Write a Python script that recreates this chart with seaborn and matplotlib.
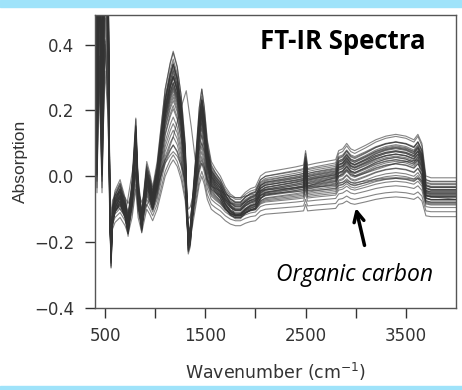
import pandas as pd
import matplotlib
matplotlib.use('Agg')
import matplotlib.pyplot as plt
import seaborn as sns
from matplotlib.patches import Rectangle

# Mean spectrum shape (wavenumber, absorption)
wavenumber = [400, 420, 440, 470, 500, 530, 548, 560, 575, 600, 650, 700, 730, 770, 807, 830,
              866, 916, 945, 975, 1020, 1060, 1100, 1150, 1180, 1220, 1260, 1300, 1330, 1350,
              1400, 1440, 1465, 1490, 1520, 1560, 1600, 1650, 1700, 1750, 1800, 1850, 1900,
              1950, 2000, 2050, 2100, 2200, 2300, 2400, 2480, 2500, 2520, 2600, 2700, 2800,
              2830, 2870, 2910, 2950, 2990, 3100, 3200, 3300, 3400, 3500, 3580, 3620, 3660,
              3700, 3750, 3850, 4000]
base = [0.8, 0.1, 0.9, 0.1, 1.0, 0.6, -0.1, -0.24, -0.12, -0.08, -0.05, -0.1, -0.15, -0.05,
        0.12, -0.05, -0.14, 0.0, -0.03, -0.07, 0.0, 0.1, 0.2, 0.27, 0.3, 0.26, 0.18, 0.05,
        -0.2, -0.18, 0.0, 0.15, 0.2, 0.15, 0.06, 0.0, -0.02, -0.04, -0.07, -0.09, -0.1, -0.1,
        -0.085, -0.075, -0.07, -0.04, -0.03, -0.025, -0.02, -0.015, -0.01, 0.03, -0.01,
        -0.005, 0.0, 0.005, 0.03, 0.035, 0.05, 0.035, 0.03, 0.045, 0.06, 0.07, 0.075, 0.07,
        0.06, 0.075, 0.05, -0.04, -0.045, -0.045, -0.045]

# per-sample baseline shift and peak strength (estimated from the spread of the bundle)
offsets = [0.045, 0.035, 0.03, 0.025, 0.02, 0.018, 0.015, 0.012, 0.01, 0.008, 0.005, 0.003,
           0.0, 0.0, -0.002, -0.005, -0.007, -0.01, -0.012, -0.015, -0.018, -0.02, -0.022,
           -0.025, -0.028, -0.03, -0.035, -0.04, -0.045, -0.05, -0.055, -0.06, -0.07, -0.085,
           -0.1, -0.03, -0.04]
scales = [1.1, 1.15, 1.0, 1.05, 1.12, 0.95, 1.08, 1.0, 1.1, 0.92, 1.05, 1.0, 1.15, 0.9, 1.02,
          0.97, 1.1, 0.95, 1.05, 0.88, 1.0, 0.93, 1.07, 0.85, 0.98, 0.9, 0.8, 0.85, 0.75, 0.7,
          0.65, 0.6, 0.55, 0.5, 0.5, 0.35, 0.45]

# one sample with a shifted main peak
outlier_wn = [400, 450, 500, 545, 560, 600, 700, 807, 866, 975, 1100, 1180, 1250, 1310, 1360,
              1400, 1465, 1550, 1650, 1800, 2000, 2100, 2480, 2500, 2520, 2830, 2910, 3000,
              3400, 3620, 3700, 4000]
outlier_ab = [0.1, 0.6, 0.9, 0.0, -0.2, -0.08, -0.12, 0.08, -0.12, -0.05, 0.05, 0.12, 0.2,
              0.26, 0.15, 0.05, 0.1, 0.02, -0.02, -0.12, -0.09, -0.05, -0.03, 0.01, -0.03, 0.0,
              0.02, 0.0, 0.04, 0.05, -0.06, -0.07]

frames = []
for i, (o, s) in enumerate(zip(offsets, scales)):
    frames.append(pd.DataFrame({'wavenumber': wavenumber,
                                'absorption': [b * s + o for b in base],
                                'sample': i}))
frames.append(pd.DataFrame({'wavenumber': outlier_wn, 'absorption': outlier_ab,
                            'sample': len(offsets)}))
df = pd.concat(frames, ignore_index=True)

sns.set_style('ticks')
plt.rcParams['font.family'] = ['DejaVu Sans']

fig = plt.figure(figsize=(4.62, 3.9), dpi=100)
ax = fig.add_axes([95/462, 82/390, 361/462, 293/390])

sns.lineplot(data=df, x='wavenumber', y='absorption', units='sample', estimator=None,
             color='#333333', alpha=0.6, lw=0.8, legend=False, ax=ax)

ax.set_xlim(400, 4000)
ax.set_ylim(-0.4, 0.49)
ax.set_xticks([500, 1000, 1500, 2000, 2500, 3000, 3500])
ax.set_xticklabels(['500', '', '1500', '', '2500', '', '3500'])
ax.set_yticks([-0.4, -0.2, 0.0, 0.2, 0.4])
ax.tick_params(axis='both', labelsize=12, colors='#333333', length=7, width=1)
ax.tick_params(axis='y', pad=8)
ax.tick_params(axis='x', pad=7)
for sp in ax.spines.values():
    sp.set_visible(True)
    sp.set_color('#555555')
    sp.set_linewidth(1)

ax.set_xlabel('Wavenumber (cm$^{-1}$)', fontsize=12.5, color='#333333', labelpad=11)
ax.set_ylabel('Absorption', fontsize=12.5, color='#333333', family='Liberation Sans',
              labelpad=4)

ax.text(3700, 0.41, 'FT-IR Spectra', fontsize=18.5, fontweight='bold', family='Open Sans',
        ha='right', va='center', color='black')
ax.text(3770, -0.30, 'Organic carbon', fontsize=16.5, style='italic', family='Open Sans',
        ha='right', va='center', color='black')
ax.annotate('', xy=(2995, -0.088), xytext=(3094, -0.218),
            arrowprops=dict(arrowstyle='->', lw=2.5, color='black', mutation_scale=18))

# light blue frame bands
fig.add_artist(Rectangle((0, 1 - 7/390), 1, 7/390, transform=fig.transFigure,
                         color='#9fe3fa', zorder=0))
fig.add_artist(Rectangle((0, 0), 1, 4/390, transform=fig.transFigure,
                         color='#9fe3fa', zorder=0))

plt.savefig('out.png', dpi=100)
